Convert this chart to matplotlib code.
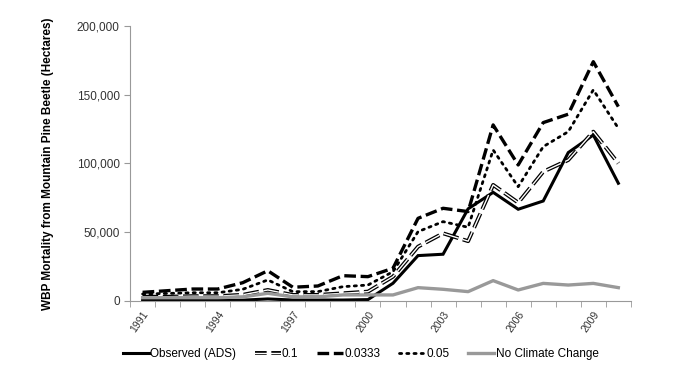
import matplotlib.pyplot as plt
import numpy as np
from matplotlib.ticker import FuncFormatter, FixedLocator
from matplotlib.legend_handler import HandlerTuple
from matplotlib.lines import Line2D

plt.rcParams['font.family'] = ['Liberation Sans', 'DejaVu Sans']

# Datos (hectareas)
anios = list(range(1991, 2011))
observado = [500, 500, 500, 500, 600, 1500, 700, 700, 700, 1000,
             12900, 33000, 34000, 67000, 79000, 66700, 72700, 107900, 120700, 85600]
tasa_01 = [3100, 3100, 3500, 3500, 4500, 8000, 4400, 4400, 5600, 6800,
           17700, 39500, 49200, 43500, 84400, 71500, 94000, 102500, 123100, 100100]
tasa_0333 = [6300, 7500, 8700, 8700, 13300, 22000, 10000, 10900, 18400, 17700,
             23800, 60100, 67400, 65000, 128000, 98900, 129700, 135800, 174000, 141300]
tasa_005 = [5100, 5500, 6000, 6000, 8500, 15300, 6800, 6800, 10400, 11600,
            21300, 50400, 57700, 53600, 109800, 83100, 112200, 123100, 153500, 125600]
sin_cambio = [2400, 2400, 2400, 2400, 3000, 5600, 3000, 3000, 4400, 4400,
              4400, 9700, 8500, 6800, 14800, 8000, 12800, 11600, 12800, 9700]

x = np.arange(len(anios))

fig = plt.figure(figsize=(6.74, 3.81), dpi=100)
ax = fig.add_axes([0.193, 0.21, 0.743, 0.722])

l_obs, = ax.plot(x, observado, color='black', lw=2.2, solid_joinstyle='miter')
# linea doble: negra gruesa con blanca fina encima
ax.plot(x, tasa_01, color='black', lw=2.8, linestyle=(0, (4, 1.2)))
ax.plot(x, tasa_01, color='white', lw=1.0, linestyle=(0, (11.2, 3.36)))
l_0333, = ax.plot(x, tasa_0333, color='black', lw=2.4, linestyle=(0, (3.5, 1.4)))
l_005, = ax.plot(x, tasa_005, color='black', lw=2.0, linestyle=(0, (0.8, 1.8)),
                 dash_capstyle='round')
l_nc, = ax.plot(x, sin_cambio, color='#999999', lw=2.4)

# proxy para la leyenda de la linea doble
p_negra = Line2D([], [], color='black', lw=2.8, linestyle=(0, (3, 1.2)))
p_blanca = Line2D([], [], color='white', lw=1.0)

ax.set_xlim(-0.5, len(anios) - 0.5)
ax.set_ylim(0, 200000)
ax.yaxis.set_major_locator(FixedLocator([0, 50000, 100000, 150000, 200000]))
ax.yaxis.set_major_formatter(FuncFormatter(lambda v, p: f'{int(v):,}'))

# marcas entre categorias, etiquetas cada 3 años
ax.set_xticks(x[::3])
ax.set_xticklabels([str(a) for a in anios[::3]], rotation=55, ha='right',
                   va='top', rotation_mode='anchor', fontsize=7.5, color='#333333')
ax.set_xticks(np.arange(-0.5, len(anios)), minor=True)
ax.tick_params(axis='x', which='major', length=0, pad=6)
ax.tick_params(axis='x', which='minor', length=4, color='#999999')
ax.tick_params(axis='y', length=4, color='#999999', labelsize=8.5, labelcolor='#333333')

for s in ['top', 'right']:
    ax.spines[s].set_visible(False)
for s in ['left', 'bottom']:
    ax.spines[s].set_color('#999999')

ax.set_ylabel('WBP Mortality from Mountain Pine Beetle (Hectares)',
              fontsize=8.5, fontweight='bold', labelpad=16)

fig.legend([l_obs, (p_negra, p_blanca), l_0333, l_005, l_nc],
           ['Observed (ADS)', '0.1', '0.0333', '0.05', 'No Climate Change'],
           handler_map={tuple: HandlerTuple(ndivide=1)},
           loc='center', bbox_to_anchor=(0.535, 0.07), ncol=5, frameon=False,
           fontsize=8.5, handlelength=2.2, handletextpad=0.1, columnspacing=1.6)

fig.savefig('out.png', dpi=100)
